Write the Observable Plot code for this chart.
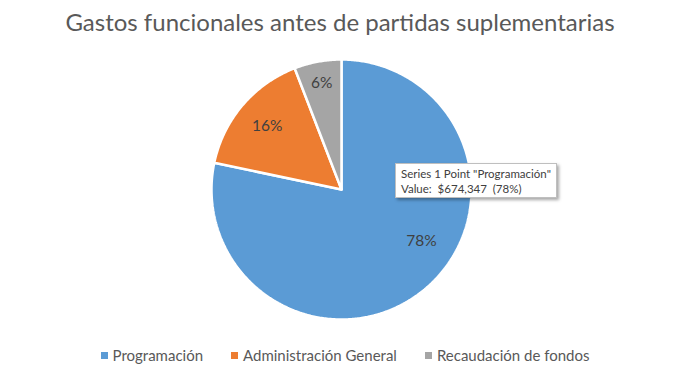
<!DOCTYPE html>
<html>
<head>
<meta charset="utf-8">
<script src="https://cdn.jsdelivr.net/npm/d3@7"></script>
<script src="https://cdn.jsdelivr.net/npm/@observablehq/plot@0.6"></script>
<style>
  html, body { margin: 0; padding: 0; background: #fff; }
  #wrap { position: relative; width: 700px; height: 374px; overflow: hidden; font-family: Lato, "Open Sans", sans-serif; }
  #title { height: 50px; text-align: center; font-size: 24px; color: #595959; line-height: 44px; padding-right: 20px; }
  #legend { display: flex; justify-content: center; gap: 28px; font-size: 15px; color: #595959; margin-top: 11px; padding-right: 10px; }
  #legend .item { display: flex; align-items: center; }
  #legend .sw { width: 7px; height: 7px; margin-right: 5px; display: inline-block; }
  #tip { position: absolute; left: 395px; top: 163px; width: 162px; height: 35px; background: #fff; border: 1px solid #bfbfbf;
         box-shadow: 2px 2px 3px rgba(0,0,0,0.35); font-size: 11.5px; color: #404040; line-height: 15px; padding: 2px 0 0 5px; box-sizing: border-box; }
</style>
</head>
<body>
<div id="wrap">
  <div id="title"></div>
  <div id="chart"></div>
  <div id="legend"></div>
  <div id="tip"></div>
</div>
<script>
const titleText = "Gastos funcionales antes de partidas suplementarias";
const categories = ["Programación", "Administración General", "Recaudación de fondos"];
const values = [674347, 136500, 50500];
const colors = ["#5B9BD5", "#ED7D31", "#A5A5A5"];
const tipSeries = "Series 1";
const tipIndex = 0;

document.getElementById("title").textContent = titleText;

const total = d3.sum(values);
const arcs = d3.pie().sort(null).startAngle(0).endAngle(2 * Math.PI)(values);

// geometry: polygons of the slices in unit-radius coordinates
const pts = [];
arcs.forEach((a, i) => {
  const cat = categories[i];
  pts.push({cat, x: 0, y: 0});
  const n = Math.max(2, Math.ceil((a.endAngle - a.startAngle) / 0.01));
  for (let k = 0; k <= n; k++) {
    const t = a.startAngle + (a.endAngle - a.startAngle) * k / n;
    pts.push({cat, x: Math.sin(t), y: Math.cos(t)});
  }
  pts.push({cat, x: 0, y: 0});
});

// label placement (layout): radius fraction and angular nudge per slice
const labelR = [0.73, 0.75, 0.83];
const labelNudge = [-0.32, 0, 0];
const labels = arcs.map((a, i) => {
  const m = (a.startAngle + a.endAngle) / 2 + labelNudge[i];
  return {cat: categories[i], x: labelR[i] * Math.sin(m), y: labelR[i] * Math.cos(m),
          text: Math.round(values[i] / total * 100) + "%"};
});

const R = 130, W = 700, H = 285, cx = 341, cy = 139;
const chart = Plot.plot({
  width: W, height: H,
  margin: 0,
  x: {domain: [-cx / R, (W - cx) / R], axis: null},
  y: {domain: [-(H - cy) / R, cy / R], axis: null},
  color: {domain: categories, range: colors},
  style: {fontFamily: "Lato, 'Open Sans', sans-serif", background: "white", overflow: "visible"},
  marks: [
    Plot.line(pts, {x: "x", y: "y", z: "cat", fill: "cat", stroke: "white", strokeWidth: 2.5, strokeLinejoin: "miter"}),
    Plot.text(labels, {x: "x", y: "y", text: "text", fill: "#404040", fontSize: 15.5})
  ]
});
document.getElementById("chart").appendChild(chart);

const legend = document.getElementById("legend");
categories.forEach((c, i) => {
  const it = document.createElement("div");
  it.className = "item";
  const sw = document.createElement("span");
  sw.className = "sw";
  sw.style.background = colors[i];
  it.appendChild(sw);
  it.appendChild(document.createTextNode(c));
  legend.appendChild(it);
});

const tip = document.getElementById("tip");
const l1 = document.createElement("div");
l1.textContent = tipSeries + ' Point "' + categories[tipIndex] + '"';
const l2 = document.createElement("div");
l2.textContent = "Value:  " + d3.format("$,")(values[tipIndex]) + "  (" + Math.round(values[tipIndex] / total * 100) + "%)";
l2.style.whiteSpace = "pre";
tip.appendChild(l1); tip.appendChild(l2);
</script>
</body>
</html>
